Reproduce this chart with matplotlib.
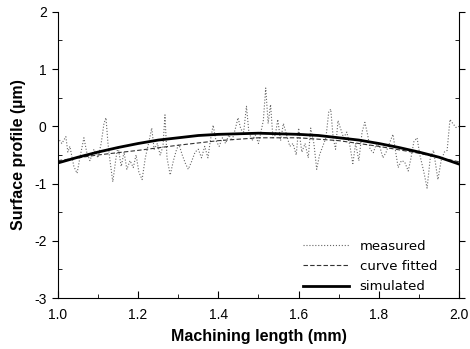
import matplotlib
matplotlib.use("Agg")
from matplotlib import pyplot as plt
from matplotlib.ticker import MultipleLocator

plt.rcParams["axes.unicode_minus"] = False

# measured surface profile
measured_x = [1.000, 1.010, 1.020, 1.025, 1.030, 1.040, 1.048, 1.055, 1.065, 1.072,
              1.080, 1.090, 1.100, 1.108, 1.115, 1.120, 1.125, 1.130, 1.137, 1.145,
              1.150, 1.158, 1.165, 1.172, 1.180, 1.188, 1.195, 1.202, 1.210, 1.218,
              1.226, 1.234, 1.240, 1.248, 1.255, 1.262, 1.267, 1.272, 1.280, 1.288,
              1.296, 1.302, 1.310, 1.318, 1.325, 1.333, 1.342, 1.350, 1.358, 1.366,
              1.374, 1.380, 1.387, 1.394, 1.402, 1.410, 1.418, 1.426, 1.434, 1.442,
              1.449, 1.456, 1.463, 1.470, 1.476, 1.484, 1.492, 1.500, 1.506, 1.512,
              1.518, 1.524, 1.530, 1.536, 1.542, 1.548, 1.555, 1.562, 1.570, 1.578,
              1.586, 1.594, 1.600, 1.608, 1.616, 1.624, 1.630, 1.638, 1.645, 1.652,
              1.660, 1.668, 1.675, 1.680, 1.686, 1.692, 1.698, 1.705, 1.712, 1.720,
              1.728, 1.735, 1.742, 1.750, 1.758, 1.765, 1.772, 1.778, 1.786, 1.794,
              1.802, 1.810, 1.818, 1.826, 1.835, 1.842, 1.848, 1.856, 1.864, 1.873,
              1.880, 1.887, 1.895, 1.902, 1.912, 1.920, 1.928, 1.936, 1.947, 1.955,
              1.963, 1.970, 1.977, 1.984, 1.992, 2.000]
measured_y = [-0.20, -0.30, -0.18, -0.45, -0.35, -0.70, -0.82, -0.55, -0.20, -0.45,
              -0.60, -0.40, -0.55, -0.30, 0.05, 0.15, -0.30, -0.60, -0.97, -0.55,
              -0.35, -0.70, -0.45, -0.75, -0.60, -0.72, -0.50, -0.80, -0.93, -0.55,
              -0.30, -0.03, -0.40, -0.30, -0.50, -0.35, 0.20, -0.55, -0.85, -0.60,
              -0.40, -0.32, -0.50, -0.65, -0.75, -0.62, -0.45, -0.40, -0.55, -0.35,
              -0.55, -0.25, 0.02, -0.25, -0.35, -0.20, -0.30, -0.15, -0.25, -0.05,
              0.15, -0.05, -0.10, 0.35, -0.10, -0.25, -0.15, -0.30, -0.10, 0.10,
              0.67, 0.05, 0.38, -0.20, -0.15, 0.12, -0.25, 0.05, -0.15, -0.35,
              -0.30, -0.50, -0.03, -0.45, -0.30, -0.55, -0.03, -0.30, -0.75, -0.50,
              -0.35, -0.20, 0.25, 0.30, -0.20, -0.40, 0.10, -0.05, -0.20, -0.10,
              -0.35, -0.65, -0.30, -0.60, -0.10, 0.07, -0.15, -0.40, -0.46, -0.30,
              -0.35, -0.55, -0.45, -0.30, -0.14, -0.46, -0.72, -0.60, -0.62, -0.78,
              -0.55, -0.27, -0.20, -0.50, -0.80, -1.08, -0.55, -0.42, -0.93, -0.60,
              -0.45, -0.42, 0.12, 0.05, -0.02, 0.00]

# fitted and simulated profiles
fitted_x = [1.0, 1.1, 1.2, 1.3, 1.4, 1.5, 1.6, 1.7, 1.8, 1.9, 2.0]
fitted_y = [-0.60, -0.50, -0.42, -0.33, -0.25, -0.20, -0.20, -0.25, -0.35, -0.47, -0.62]

sim_x = [1.0, 1.05, 1.1, 1.15, 1.2, 1.25, 1.3, 1.35, 1.4, 1.45, 1.5,
         1.55, 1.6, 1.65, 1.7, 1.75, 1.8, 1.85, 1.9, 1.95, 2.0]
sim_y = [-0.64, -0.54, -0.45, -0.37, -0.30, -0.24, -0.20, -0.16, -0.14, -0.13, -0.12,
         -0.13, -0.14, -0.16, -0.20, -0.24, -0.30, -0.37, -0.45, -0.54, -0.66]

fig = plt.figure(figsize=(4.7, 3.49), dpi=100)
ax = fig.add_axes([0.123, 0.146, 0.854, 0.820])

ax.plot(measured_x, measured_y, color="0.4", lw=0.8, ls=":", label="measured")
ax.plot(fitted_x, fitted_y, color="0.2", lw=0.8, ls=(0, (4, 2)), label="curve fitted")
ax.plot(sim_x, sim_y, color="black", lw=2.0, label="simulated")

ax.set_xlim(1.0, 2.0)
ax.set_ylim(-3, 2)
ax.xaxis.set_major_locator(MultipleLocator(0.2))
ax.xaxis.set_minor_locator(MultipleLocator(0.1))
ax.yaxis.set_major_locator(MultipleLocator(1))
ax.yaxis.set_minor_locator(MultipleLocator(0.5))

tick_font = "Liberation Sans"
ax.tick_params(axis="x", which="both", direction="in", top=False, labelsize=10, pad=7)
ax.tick_params(axis="x", which="major", length=5)
ax.tick_params(axis="x", which="minor", length=3)
ax.tick_params(axis="y", which="major", direction="out", length=4, labelsize=10,
               right=True, pad=4)
ax.tick_params(axis="y", which="minor", direction="in", length=3, right=True)
for lab in ax.get_xticklabels() + ax.get_yticklabels():
    lab.set_fontfamily(tick_font)
ax.spines["top"].set_visible(False)

ax.set_xlabel("Machining length (mm)", fontsize=11.5, fontweight="bold",
              family=tick_font, labelpad=5)
ax.set_ylabel("Surface profile (\u00b5m)", fontsize=11.5, fontweight="bold",
              family=tick_font, labelpad=6)

ax.legend(loc="lower right", bbox_to_anchor=(0.975, -0.025), frameon=False,
          fontsize=9.5, handlelength=3.5, labelspacing=0.55)

fig.savefig("out.png", dpi=100)
